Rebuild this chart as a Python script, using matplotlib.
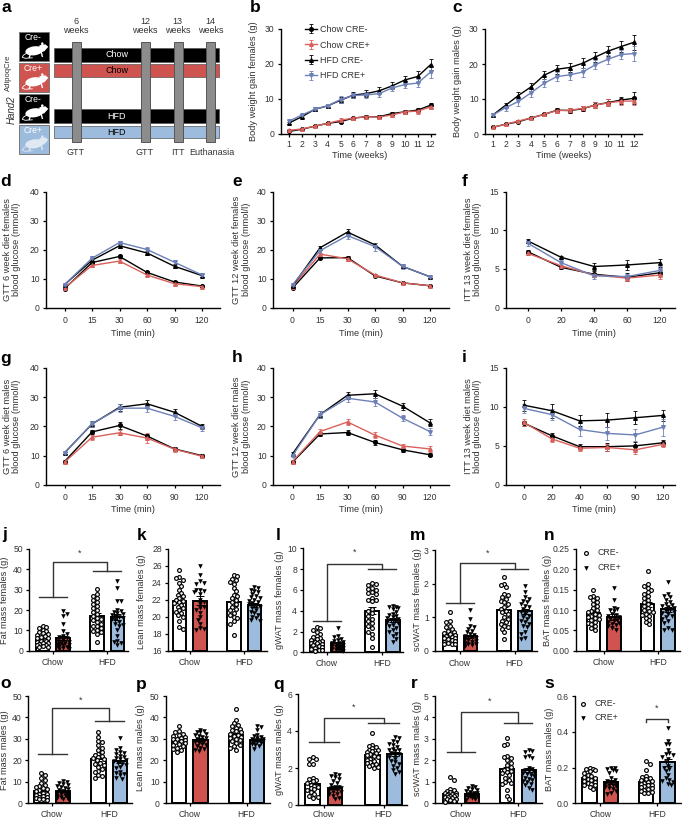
import matplotlib
matplotlib.use('Agg')
import matplotlib.pyplot as plt
from matplotlib.patches import Rectangle, Ellipse, Polygon

plt.rcParams['font.family'] = ['Liberation Sans', 'DejaVu Sans']
plt.rcParams['axes.linewidth'] = 1.0

W, H = 682, 819
RED = '#cf5450'
BLUE = '#9dbbdc'
LRED = '#d9615c'
LBLUE = '#6d80b8'
GRAY = '#333333'

# line charts: chow cre-, chow cre+, hfd cre-, hfd cre+
weeks = [str(i) for i in range(1, 13)]
gtt_times = ['0', '15', '30', '60', '90', '120']
itt_times_f = ['0', '20', '40', '60', '120']
itt_times_m = ['0', '20', '40', '60', '90', '120']

gain_f = [[0.6, 1.2, 2.1, 2.9, 3.4, 4.4, 4.8, 4.8, 5.7, 6.2, 6.7, 8.1],
          [0.9, 1.3, 2.1, 2.9, 3.8, 4.4, 4.8, 4.7, 5.3, 6.2, 6.4, 7.6],
          [3.0, 4.8, 6.9, 7.9, 9.5, 11.0, 11.4, 12.2, 13.6, 15.3, 16.3, 19.7],
          [3.5, 5.3, 6.9, 7.9, 9.7, 10.9, 11.0, 11.4, 13.0, 14.0, 14.4, 17.6]]
gain_f_err = [[0.2, 0.2, 0.3, 0.3, 0.4, 0.4, 0.4, 0.4, 0.5, 0.5, 0.6, 0.7],
              [0.3, 0.3, 0.3, 0.4, 0.6, 0.4, 0.4, 0.4, 0.6, 0.5, 0.7, 0.6],
              [0.3, 0.4, 0.6, 0.6, 0.8, 0.8, 1.0, 1.0, 1.0, 1.2, 1.5, 1.5],
              [0.3, 0.4, 0.6, 0.6, 0.9, 0.8, 0.8, 0.9, 0.9, 1.0, 1.2, 1.6]]
gain_m = [[1.9, 2.8, 3.5, 4.6, 5.6, 6.8, 6.7, 7.2, 8.3, 9.0, 9.7, 10.2],
          [1.9, 2.8, 3.7, 4.6, 5.6, 6.7, 6.8, 7.3, 8.3, 8.9, 9.4, 9.4],
          [5.4, 8.2, 11.0, 13.5, 16.8, 18.5, 19.0, 20.2, 22.0, 23.7, 25.0, 26.2],
          [5.4, 7.5, 9.3, 11.8, 14.5, 16.4, 16.9, 17.7, 19.8, 21.4, 22.7, 23.0]]
gain_m_err = [[0.3, 0.3, 0.4, 0.4, 0.4, 0.6, 0.7, 0.7, 0.8, 1.0, 1.0, 1.7],
              [0.3, 0.3, 0.4, 0.4, 0.4, 0.6, 0.7, 0.7, 0.8, 1.0, 1.0, 1.1],
              [0.6, 0.7, 1.1, 1.1, 1.2, 1.3, 1.4, 1.4, 1.5, 1.5, 1.7, 2.2],
              [0.6, 0.8, 1.2, 1.2, 1.2, 1.3, 1.4, 1.3, 1.3, 1.3, 1.3, 2.2]]

gtt6_f = [[6.5, 15.5, 17.6, 12.1, 8.8, 7.4], [6.8, 14.5, 16.0, 11.2, 8.2, 7.2],
          [7.9, 16.3, 21.3, 18.8, 14.2, 11.0], [7.9, 17.0, 22.4, 20.0, 15.6, 11.2]]
gtt6_f_err = [[0.4, 0.5, 0.6, 0.5, 0.4, 0.3], [0.4, 0.5, 0.6, 0.5, 0.5, 0.3],
              [0.3, 0.7, 0.7, 0.7, 0.7, 0.5], [0.3, 0.6, 0.7, 1.0, 0.9, 0.7]]
gtt12_f = [[6.7, 17.1, 17.2, 10.9, 8.5, 7.5], [7.2, 18.4, 16.8, 11.2, 8.5, 7.5],
           [7.4, 20.6, 26.0, 21.6, 14.2, 10.6], [7.8, 19.6, 24.8, 21.0, 14.2, 10.6]]
gtt12_f_err = [[0.3, 0.4, 0.6, 0.4, 0.3, 0.2], [0.3, 0.5, 0.9, 0.5, 0.3, 0.2],
               [0.3, 0.5, 0.9, 0.8, 0.5, 0.3], [0.3, 0.7, 1.1, 1.4, 0.8, 0.3]]
itt13_f = [[7.2, 5.2, 4.3, 3.9, 4.5], [7.0, 5.4, 4.2, 3.8, 4.2],
           [8.6, 6.5, 5.3, 5.5, 5.8], [8.3, 5.8, 4.1, 4.0, 4.8]]
itt13_f_err = [[0.2, 0.2, 0.4, 0.5, 0.3], [0.2, 0.3, 0.3, 0.4, 0.5],
               [0.3, 0.2, 0.5, 0.7, 0.5], [0.4, 0.3, 0.4, 0.3, 0.6]]

gtt6_m = [[8.0, 18.1, 20.3, 16.7, 12.3, 10.0], [7.8, 16.3, 17.8, 16.0, 12.2, 9.8],
          [11.0, 20.8, 26.5, 27.7, 24.8, 20.0], [10.9, 20.9, 26.2, 26.2, 23.4, 19.5]]
gtt6_m_err = [[0.4, 0.8, 1.1, 0.8, 0.6, 0.5], [0.4, 0.8, 0.8, 1.6, 0.9, 0.6],
              [0.4, 1.0, 1.2, 1.3, 1.2, 0.8], [0.4, 1.0, 1.4, 1.3, 1.4, 1.0]]
gtt12_m = [[7.8, 17.4, 17.9, 14.5, 12.0, 10.3], [8.0, 18.2, 21.5, 17.0, 13.3, 12.3],
           [10.6, 24.0, 30.6, 31.1, 26.9, 21.2], [10.0, 24.0, 29.6, 28.3, 22.8, 18.2]]
gtt12_m_err = [[0.4, 0.6, 1.0, 0.7, 0.6, 0.5], [0.4, 0.8, 1.0, 1.0, 0.8, 1.0],
               [0.5, 1.2, 1.2, 1.4, 1.2, 1.2], [0.5, 1.2, 1.2, 1.3, 1.1, 1.2]]
itt13_m = [[7.9, 6.3, 4.9, 4.9, 5.0, 5.4], [8.0, 5.9, 4.7, 4.8, 4.5, 5.2],
           [10.2, 9.5, 8.2, 8.3, 8.6, 8.9], [9.8, 9.0, 7.1, 6.6, 6.4, 7.4]]
itt13_m_err = [[0.3, 0.3, 0.3, 0.5, 0.5, 0.4], [0.5, 0.4, 0.3, 0.5, 0.5, 0.4],
               [0.7, 0.9, 0.7, 0.9, 0.8, 0.7], [0.6, 0.7, 0.8, 0.8, 0.8, 1.1]]

# bar charts: means, sems and single animals
groups = ['Chow', 'HFD']

fat_f_mean = [5.7, 6.3, 17.3, 16.5]
fat_f_sem = [0.6, 1.0, 1.3, 1.4]
fat_f = [[12, 11.5, 11, 10, 9.5, 9, 8.5, 8, 7.5, 7, 6.5, 6, 6, 5.5, 5, 5, 4.5, 4, 4, 3.5, 3, 3, 2.5, 2, 2],
         [19.5, 18, 17, 13, 9.5, 8, 7, 6.5, 6, 5.5, 5, 4.5, 4, 4, 3.5, 3, 3, 2.5, 2, 2, 1.5, 1, 1],
         [30.5, 28, 27, 26, 25, 24, 23, 22, 21, 20, 19, 18, 17, 16, 15.5, 15, 14, 13, 12, 12, 11, 10, 9.5, 9, 8, 4.5],
         [34.5, 31, 24.5, 24.5, 20, 19.5, 19, 18.5, 18, 17.5, 17, 16.5, 16, 15.5, 15, 14, 13, 12.5, 12, 10, 7, 5, 4.5, 4, 3]]

lean_f_mean = [21.9, 21.9, 21.7, 21.4]
lean_f_sem = [0.3, 0.5, 0.4, 0.2]
lean_f = [[25.5, 24.7, 24.6, 24.4, 24, 23.6, 23.2, 22.8, 22.6, 22.4, 22.2, 22, 21.9, 21.8, 21.6, 21.4, 21.2, 21, 20.8, 20.6, 20.4, 20.2, 20, 19.5, 18.8, 18.6],
          [26, 24.9, 24.2, 24, 23.9, 23.2, 23.2, 23, 22.9, 22.7, 22, 21.8, 21.5, 21.2, 21, 20.8, 20.5, 20, 19.6, 19.2, 18.7, 18.6, 18.5],
          [24.9, 24.8, 24.5, 24.3, 24.1, 23.9, 23.4, 23, 22.6, 22.4, 22.2, 22, 21.7, 21.5, 21.2, 20.9, 20.8, 20.5, 20.2, 20, 19.8, 19.5, 19.2, 17.8],
          [23.5, 23.4, 23.2, 23.1, 22.9, 22.7, 22.5, 22.3, 22.2, 22, 21.9, 21.7, 21.6, 21.5, 21.3, 21.2, 21, 20.8, 20.6, 20.4, 20.2, 20, 19.8, 19.6, 19.5]]

gwat_f_mean = [1.1, 0.85, 4.0, 3.1]
gwat_f_sem = [0.12, 0.12, 0.35, 0.2]
gwat_f = [[2.4, 2.3, 2.1, 2, 1.8, 1.6, 1.5, 1.4, 1.3, 1.2, 1.1, 1, 1, .9, .9, .8, .7, .6, .5, .4, .3, .2, .2, .1],
          [2.3, 1.6, 1.5, 1.3, 1.2, 1.1, 1, .9, .9, .8, .7, .7, .6, .6, .5, .5, .4, .4, .3, .3, .2, .2, .1],
          [6.7, 6.6, 6.5, 6.2, 6.1, 6, 5.8, 5.7, 5.6, 5.2, 5, 5, 4.9, 4.2, 4, 3.8, 3.5, 3.2, 3, 2.8, 2.5, 2.3, 2, 1.8, 1.4, 0.5],
          [4.5, 4.4, 4.4, 4.3, 4.2, 3.9, 3.7, 3.6, 3.5, 3.4, 3.3, 3.2, 3.1, 3, 2.9, 2.8, 2.6, 2.5, 2.3, 2.1, 2, 1.8, 1.6, 1.3, 1]]

scwat_f_mean = [0.47, 0.44, 1.23, 1.18]
scwat_f_sem = [0.04, 0.05, 0.09, 0.08]
scwat_f = [[1.17, .9, .85, .75, .7, .65, .6, .55, .52, .5, .48, .45, .43, .4, .38, .36, .33, .3, .28, .25, .22, .2, .2],
           [1.22, .95, .75, .7, .65, .6, .55, .5, .48, .45, .42, .4, .38, .35, .33, .3, .28, .25, .22, .2, .18, .15],
           [2.2, 2, 1.95, 1.9, 1.7, 1.65, 1.6, 1.55, 1.5, 1.45, 1.4, 1.3, 1.25, 1.2, 1.15, 1.1, 1, .95, .9, .85, .8, .75, .7, .65, .55, .35],
           [1.92, 1.75, 1.6, 1.55, 1.5, 1.45, 1.4, 1.35, 1.3, 1.25, 1.2, 1.15, 1.1, 1.05, 1, .95, .9, .85, .8, .75, .7, .55, .5, .4, .37]]

bat_f_mean = [0.092, 0.082, 0.114, 0.102]
bat_f_sem = [0.006, 0.007, 0.006, 0.006]
bat_f = [[.15, .135, .133, .13, .125, .12, .115, .11, .105, .1, .097, .095, .09, .088, .085, .082, .08, .078, .075, .07, .068, .065, .06, .055, .05],
         [.153, .125, .105, .103, .1, .098, .09, .088, .085, .082, .08, .078, .075, .072, .07, .068, .065, .062, .06, .055, .05],
         [.197, .165, .158, .155, .15, .145, .14, .135, .13, .125, .12, .115, .11, .105, .1, .097, .095, .09, .088, .085, .08, .075, .07, .065],
         [.168, .14, .135, .132, .125, .12, .115, .112, .11, .108, .105, .1, .098, .095, .092, .09, .085, .082, .078, .072, .068, .055, .052, .05]]

fat_m_mean = [5.7, 5.6, 20.7, 19.5]
fat_m_sem = [0.7, 0.5, 1.0, 0.9]
fat_m = [[14.2, 13, 12, 11, 9.5, 8.5, 8, 7.5, 7, 6.5, 6, 5.5, 5, 4.5, 4.5, 4, 3.5, 3, 3, 2.5, 2, 2, 1.5],
         [10.5, 10, 9.5, 9, 8.5, 8, 7.5, 7, 6.5, 6, 5.5, 5, 5, 4.5, 4, 4, 3.5, 3, 3, 2.5, 2, 2],
         [33, 31, 29, 28.5, 27, 26, 25, 24, 23, 22.5, 22, 21.5, 21, 20.5, 20, 19, 18.5, 18, 17, 16, 15, 14.5, 13, 12.5, 12],
         [30.5, 26, 25, 24, 23.5, 23, 22, 21.5, 21, 20.5, 20, 19.5, 19, 18.5, 18, 17, 16.5, 14.5, 14, 13.5, 13, 12, 11.5]]

lean_m_mean = [29.7, 29.7, 31.8, 29.6]
lean_m_sem = [0.6, 0.6, 0.8, 0.5]
lean_m = [[36, 33.5, 33, 32.5, 32, 31.5, 31, 30.5, 30, 30, 29.5, 29, 28.5, 28, 27.5, 27, 26.5, 26, 25.5, 25, 24],
          [34, 33.5, 33, 33, 32.5, 32, 31.5, 31, 30.5, 30, 29.5, 29, 28.5, 28, 27.5, 27, 26.5, 26, 25.5, 25, 24.5],
          [44, 39, 37.5, 36.5, 36, 35, 34.5, 34, 33.5, 33, 32.5, 32, 31.5, 31, 30.5, 30, 29.5, 29, 28, 27, 26.5, 26, 25],
          [36, 35.5, 34, 32, 31.5, 31, 30.5, 30, 30, 29.5, 29.5, 29, 29, 28.5, 28.5, 28, 27.5, 27, 26.5, 25.5]]

gwat_m_mean = [1.15, 0.93, 2.7, 2.75]
gwat_m_sem = [0.13, 0.09, 0.1, 0.12]
gwat_m = [[2.6, 2.5, 2.5, 2.2, 2.2, 1.45, 1.4, 1.35, 1.3, 1.2, 1.1, 1.05, 1, .9, .85, .8, .7, .6, .5, .45, .4],
          [1.65, 1.6, 1.55, 1.5, 1.4, 1.3, 1.2, 1.1, 1, 1, .9, .9, .8, .8, .7, .7, .6, .6, .5, .4, .3],
          [3.87, 3.25, 3.2, 3.15, 3.1, 3.0, 2.95, 2.9, 2.85, 2.8, 2.75, 2.7, 2.65, 2.6, 2.5, 2.45, 2.4, 2.3, 2.25, 2.2, 2.15, 2.1, 2.05, 2],
          [3.65, 3.6, 3.45, 3.4, 3.3, 3.25, 3.15, 3.05, 3, 2.95, 2.9, 2.8, 2.75, 2.7, 2.6, 2.5, 2.4, 2.3, 2.2, 2.1, 2, 1.9, 1.8, 1.7]]

scwat_m_mean = [0.42, 0.45, 1.58, 1.55]
scwat_m_sem = [0.06, 0.04, 0.13, 0.1]
scwat_m = [[1.22, 1.1, .65, .6, .55, .52, .5, .48, .45, .42, .4, .38, .35, .32, .3, .28, .25, .22, .2, .15, .1, .08],
           [.8, .75, .7, .65, .6, .55, .52, .5, .48, .45, .42, .4, .38, .35, .32, .3, .28, .25, .2, .15],
           [3.03, 2.75, 2.7, 2.2, 2.15, 2.1, 2, 1.9, 1.8, 1.7, 1.6, 1.55, 1.5, 1.45, 1.4, 1.3, 1.2, 1.1, 1, .95, .9, .6, .35, .2],
           [2.5, 2.45, 2.4, 2.2, 2.15, 2.1, 1.65, 1.6, 1.55, 1.5, 1.45, 1.4, 1.35, 1.3, 1.25, 1.2, 1.15, 1.1, 1.05, 1, .9, .85, .7, .6]]

bat_m_mean = [0.14, 0.12, 0.12, 0.23]
bat_m_sem = [0.008, 0.01, 0.009, 0.02]
bat_m = [[.195, .19, .19, .185, .18, .17, .16, .15, .145, .14, .135, .13, .125, .12, .115, .11, .105, .1, .09, .08],
         [.195, .195, .19, .185, .18, .17, .14, .13, .125, .12, .115, .11, .105, .1, .095, .09, .085, .08, .07, .06, .05],
         [.235, .22, .185, .15, .145, .14, .135, .13, .125, .12, .115, .11, .105, .1, .095, .09, .085, .08, .075, .07, .065, .06, .055],
         [.42, .35, .33, .33, .3, .28, .275, .27, .26, .25, .23, .21, .2, .19, .18, .16, .14, .13, .125, .12, .11, .1]]

fig = plt.figure(figsize=(W / 100, H / 100), dpi=100)


def box(L, R, T, B):
    ax = fig.add_axes([L / W, 1 - B / H, (R - L) / W, (B - T) / H])
    ax.patch.set_alpha(0)
    ax.spines['top'].set_visible(False)
    ax.spines['right'].set_visible(False)
    ax.tick_params(length=2.5, width=0.9, labelsize=6.2, pad=2, labelcolor=GRAY)
    return ax


def label(x, y, s, rot=0, size=6.7, **kw):
    kw.setdefault('ha', 'center')
    kw.setdefault('va', 'center')
    kw.setdefault('color', GRAY)
    fig.text(x / W, 1 - y / H, s, rotation=rot, fontsize=size, **kw)


# ---- a: study scheme, drawn on a pixel overlay
ov = fig.add_axes([0, 0, 1, 1])
ov.set_xlim(0, W)
ov.set_ylim(H, 0)
ov.axis('off')


def mouse(x, y, col='white'):
    ov.add_patch(Ellipse((x + 15, y + 18.5), 18, 9, angle=-8, color=col, lw=0))
    ov.add_patch(Polygon([(x + 20, y + 13), (x + 26, y + 12), (x + 29, y + 14.5), (x + 25, y + 19), (x + 21, y + 20)], color=col, lw=0))
    ov.add_patch(Ellipse((x + 23, y + 11.5), 2.5, 3, color=col, lw=0))
    ov.plot([x + 7, x + 4, x + 3, x + 6, x + 13], [y + 21, y + 23, y + 25, y + 26, y + 25.5], color=col, lw=0.6)
    ov.plot([x + 11, x + 10], [y + 22, y + 25], color=col, lw=1)
    ov.plot([x + 22, x + 23], [y + 20, y + 24], color=col, lw=1)


for top, col, txt in [(32.3, 'black', 'Cre-'), (63.3, RED, 'Cre+'), (94.3, 'black', 'Cre-'), (125.3, BLUE, 'Cre+')]:
    ov.add_patch(Rectangle((19.3, top), 30, 28.8, fc=col, ec='#777777', lw=0.7))
    ov.text(33.5, top + 5, txt, color='white', fontsize=6.2, ha='center', va='center')
    mouse(19.3, top, 'white' if col != BLUE else '#dfe8f3')

for top, h, col, txt, tc in [(47.7, 14, 'black', 'Chow', 'white'), (64, 12.7, RED, 'Chow', 'black'),
                             (109.3, 14, 'black', 'HFD', 'white'), (125.7, 12.7, BLUE, 'HFD', 'black')]:
    ov.add_patch(Rectangle((54.3, top), 165, h, fc=col, ec='#555555', lw=0.5))
    ov.text(116.7, top + h / 2, txt, color=tc, fontsize=6.5, ha='center', va='center')

for x0, wk, tx, tlab, bx in [(71.7, '6', 76, 'GTT', 75.7), (141, '12', 145, 'GTT', 145),
                             (173.7, '13', 177.7, 'ITT', 177.7), (206, '14', 210.3, 'Euthanasia', 212.3)]:
    ov.add_patch(Rectangle((x0, 41.7), 8.8, 100.6, fc='#8c8c8c', ec='#555555', lw=0.7))
    ov.text(tx, 26, wk + '\nweeks', color=GRAY, fontsize=6.5, ha='center', va='center', linespacing=1.05)
    ov.text(bx, 152.7, tlab, color=GRAY, fontsize=6.5, ha='center', va='center')

ov.text(11.5, 110, 'Hand2', rotation=90, style='italic', fontsize=7, color=GRAY, ha='center', va='center')
ov.text(8.5, 73, 'AdipoqCre', rotation=90, fontsize=5.5, color=GRAY, ha='center', va='center')


# ---- line panels
def lines(box_px, x0, x1, ticks, data, err, ymax, yticks, ylab, ylab_x, xlab, xlab_y, xpad=2):
    L, R, T, B = box_px
    ax = box(L, R, T, B)
    ax.tick_params(axis='x', pad=xpad)
    n = len(ticks)
    u = (x1 - x0) / (n - 1)
    ax.set_xlim((L - x0) / u, (R - x0) / u)
    ax.set_ylim(0, ymax)
    styles = [('black', 'o', 'Chow CRE-'), (LRED, '^', 'Chow CRE+'), ('black', '^', 'HFD CRE-'), (LBLUE, 'v', 'HFD CRE+')]
    hs = []
    for vals, e, (c, m, lb) in zip(data, err, styles):
        hs.append(ax.errorbar(range(n), vals, yerr=e, color=c, marker=m, ms=2.6, lw=1.0,
                              elinewidth=0.6, capsize=1.3, capthick=0.6, label=lb, clip_on=False))
    ax.set_xticks(range(n))
    ax.set_xticklabels(ticks)
    ax.set_yticks(yticks)
    label(ylab_x, (T + B) / 2, ylab, rot=90, linespacing=1.1)
    label((x0 + x1) / 2, xlab_y, xlab)
    return ax, hs


wk_lab = 'Time (weeks)'
ax_b, hs_b = lines((280.7, 435, 28.5, 133.5), 289, 430.7, weeks, gain_f, gain_f_err, 30, [0, 10, 20, 30],
                   'Body weight gain females (g)', 253, wk_lab, 156)
ax_b.legend(hs_b, [h.get_label() for h in hs_b], loc='upper left', bbox_to_anchor=(305 / W, 1 - 25 / H),
            bbox_transform=fig.transFigure, frameon=False, fontsize=6.5, borderpad=0, borderaxespad=0,
            labelspacing=0.72, handlelength=1.35, handletextpad=0.35, labelcolor=GRAY)
lines((485, 642, 29, 134), 492.7, 634, weeks, gain_m, gain_m_err, 30, [0, 10, 20, 30],
      'Body weight gain males (g)', 457, wk_lab, 156)

t_lab = 'Time (min)'
g40 = [0, 10, 20, 30, 40]
g15 = [0, 5, 10, 15]
r2 = (191.5, 307.5)
r3 = (367.7, 485)
lines((45.8, 219.6) + r2, 64.6, 202, gtt_times, gtt6_f, gtt6_f_err, 40, g40,
      'GTT 6 week diet females\nblood glucose (mmol/l)', 12, t_lab, 333, xpad=3.6)
lines((273, 449) + r2, 292.5, 430, gtt_times, gtt12_f, gtt12_f_err, 40, g40,
      'GTT 12 week diet females\nblood glucose (mmol/l)', 241.5, t_lab, 333, xpad=3.6)
lines((505.6, 675) + r2, 528, 660, itt_times_f, itt13_f, itt13_f_err, 15, g15,
      'ITT 13 week diet females\nblood glucose (mmol/l)', 473, t_lab, 333, xpad=3.6)
lines((45.8, 219.6) + r3, 64.6, 202, gtt_times, gtt6_m, gtt6_m_err, 40, g40,
      'GTT 6 week diet males\nblood glucose (mmol/l)', 12, t_lab, 510, xpad=3.6)
lines((273, 449) + r3, 292.5, 430, gtt_times, gtt12_m, gtt12_m_err, 40, g40,
      'GTT 12 week diet males\nblood glucose (mmol/l)', 241.5, t_lab, 510, xpad=3.6)
lines((505.6, 675) + r3, 524, 663, itt_times_m, itt13_m, itt13_m_err, 15, g15,
      'ITT 13 week diet males\nblood glucose (mmol/l)', 473, t_lab, 510, xpad=3.6)


# ---- bar panels
def swarm(vals, py, d=3.7, maxw=7.2):
    # beeswarm offsets in pixels, py is pixels per data unit
    placed = []
    out = []
    for v in vals:
        cands = [0]
        k = 1
        while k * d / 2 <= maxw:
            cands += [k * d / 2, -k * d / 2] if len(placed) % 2 else [-k * d / 2, k * d / 2]
            k += 1
        best = cands[0]
        best_gap = -1
        for c in cands:
            gap = min([((c - a) ** 2 + ((v - b) * py) ** 2) ** 0.5 for a, b in placed] or [99])
            if gap >= d:
                best = c
                best_gap = gap
                break
            if gap > best_gap:
                best, best_gap = c, gap
        placed.append((best, v))
        out.append(best)
    return out


POS = [0, 1, 2.65, 3.65]


def bars(box_px, c0, c3, means, sems, pts, ylim, yticks, yfmt, ylab, ylab_x, ylab_y, brk=None, xpad=2.9):
    L, R, T, B = box_px
    ax = box(L, R, T, B)
    ax.tick_params(axis='x', pad=xpad)
    u = (c3 - c0) / POS[-1]
    ax.set_xlim((L - c0) / u, (R - c0) / u)
    ax.set_ylim(*ylim)
    py = (B - T) / (ylim[1] - ylim[0])
    for i, c in enumerate(['white', RED, 'white', BLUE]):
        ax.bar(POS[i], means[i] - ylim[0], bottom=ylim[0], width=0.66, color=c, edgecolor='black', lw=1.4, zorder=2)
        ax.errorbar(POS[i], means[i], yerr=sems[i], color='black', lw=0.7, capsize=3, capthick=0.7, zorder=3)
        off = swarm(pts[i], py)
        xs = [POS[i] + o / u for o in off]
        if i % 2 == 0:
            ax.scatter(xs, pts[i], s=7.5, marker='o', facecolor='white', edgecolor='black', lw=0.85, zorder=4, clip_on=False)
        else:
            ax.scatter(xs, pts[i], s=11, marker='v', color='black', lw=0, zorder=4, clip_on=False)
    ax.set_xticks([0.5, 3.15])
    ax.set_xticklabels(groups)
    ax.set_yticks(yticks)
    ax.set_yticklabels([yfmt % t for t in yticks])
    label(ylab_x, ylab_y, ylab, rot=90)
    if brk:
        lo, top, hi, star = brk
        lk = dict(color=GRAY, lw=1.0, clip_on=False, zorder=5)
        ax.plot([-0.17, 1.17], [lo, lo], **lk)
        ax.plot([2.48, 3.82], [hi, hi], **lk)
        ax.plot([0.5, 0.5, 3.15, 3.15], [lo, top, top, hi], **lk)
        ax.text(1.82, star, '*', ha='center', va='center', fontsize=6.5, color=GRAY)
    return ax


def cre_legend(ax, mx, y1, y2, tx):
    h1 = ax.scatter([], [], s=7.5, marker='o', facecolor='white', edgecolor='black', lw=0.85)
    h2 = ax.scatter([], [], s=11, marker='v', color='black', lw=0)
    ax.legend([h1, h2], ['CRE-', 'CRE+'], loc='upper left', bbox_to_anchor=((mx - 3) / W, 1 - (y1 - 5) / H),
              bbox_transform=fig.transFigure, frameon=False, fontsize=6.3, borderpad=0, borderaxespad=0,
              handlelength=1.0, handletextpad=(tx - mx - 5) / 8.8, labelspacing=(y2 - y1 - 8.8) / 8.8, labelcolor=GRAY)


rj = (549, 650.7)
ro = (696, 803.3)
bars((29.3, 128) + rj, 42.7, 117.3, fat_f_mean, fat_f_sem, fat_f, (0, 50), [0, 10, 20, 30, 40, 50], '%d',
     'Fat mass females (g)', 5, 600, (26.5, 43.5, 39, 48))
bars((168, 266.7) + rj, 179.4, 254.3, lean_f_mean, lean_f_sem, lean_f, (16, 28), [16, 18, 20, 22, 24, 26, 28], '%d',
     'Lean mass females (g)', 141.7, 602)
bars((303.3, 403, 548.3, 652.3), 316.7, 392.7, gwat_f_mean, gwat_f_sem, gwat_f, (0, 10), [0, 2, 4, 6, 8, 10], '%d',
     'gWAT mass females (g)', 279, 600, (3.0, 8.5, 8.0, 9.6), xpad=2.4)
bars((435, 536.7, 550, 651), 449.8, 524.8, scwat_f_mean, scwat_f_sem, scwat_f, (0, 3), [0, 1, 2, 3], '%d',
     'scWAT mass females (g)', 417, 600, (1.43, 2.6, 2.45, 2.89))
ax_n = bars((576, 680) + rj, 593.3, 668, bat_f_mean, bat_f_sem, bat_f, (0, 0.25), [0, .05, .1, .15, .2, .25], '%.2f',
            'BAT mass females (g)', 548, 600)
cre_legend(ax_n, 585, 553, 567.7, 596.7)

bars((28.3, 131.7) + ro, 41.3, 120, fat_m_mean, fat_m_sem, fat_m, (0, 50), [0, 10, 20, 30, 40, 50], '%d',
     'Fat mass males (g)', 5, 750, (22.8, 44.3, 38.3, 47.8), xpad=2.4)
bars((166, 270) + ro, 179, 257.3, lean_m_mean, lean_m_sem, lean_m, (0, 50), [0, 10, 20, 30, 40, 50], '%d',
     'Lean mass males (g)', 140.7, 748, xpad=2.4)
bars((298.3, 406.7, 694, 805), 312.5, 394.8, gwat_m_mean, gwat_m_sem, gwat_m, (0, 6), [0, 2, 4, 6], '%d',
     'gWAT mass males (g)', 279.3, 750, (3.43, 4.72, 4.45, 5.29), xpad=1.2)
bars((435, 542) + ro, 450.3, 528.7, scwat_m_mean, scwat_m_sem, scwat_m, (0, 5), [0, 1, 2, 3, 4, 5], '%d',
     'scWAT mass males (g)', 417, 749, (2.39, 4.26, 3.75, 4.76), xpad=2.4)
ax_s = bars((575, 681) + ro, 589.5, 667.5, bat_m_mean, bat_m_sem, bat_m, (0, 0.6), [0, .2, .4, .6], '%.1f',
            'BAT mass males (g)', 549, 749, xpad=2.4)
cre_legend(ax_s, 581.7, 704, 718, 593.3)
ax_s.plot([2.65, 2.65, 3.65, 3.65], [0.455, 0.474, 0.474, 0.455], color=GRAY, lw=1.0, zorder=5)
ax_s.text(3.15, 0.533, '*', ha='center', va='center', fontsize=6.5, color=GRAY)

# panel letters
for s, x, y in [('a', 2, 8), ('b', 250, 8), ('c', 452, 8),
                ('d', 0, 182), ('e', 232, 182), ('f', 462, 182),
                ('g', 0, 358), ('h', 232, 358), ('i', 462, 358),
                ('j', 2, 535), ('k', 137, 535), ('l', 276, 535), ('m', 410, 535), ('n', 544, 535),
                ('o', 0, 684), ('p', 136, 684), ('q', 273, 684), ('r', 411, 684), ('s', 544, 684)]:
    label(x, y, s, size=12.5, color='black', weight='bold', ha='left')

fig.savefig('out.png', dpi=100)
